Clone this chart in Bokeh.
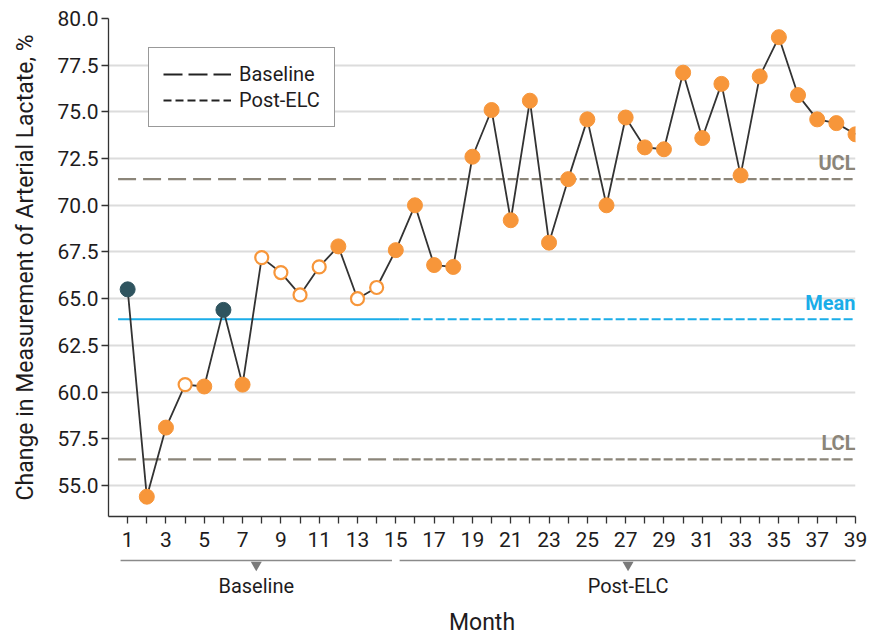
from bokeh.plotting import figure
from bokeh.models import Range1d, FixedTicker, Legend, LegendItem, NumeralTickFormatter
from bokeh.layouts import column
from bokeh.embed import file_html
from bokeh.resources import INLINE
from bokeh.core.properties import value

# ---------------- data ----------------
months = list(range(1, 40))
lactate_pct = [65.5, 54.4, 58.1, 60.4, 60.3, 64.4, 60.4, 67.2, 66.4, 65.2,
               66.7, 67.8, 65.0, 65.6, 67.6, 70.0, 66.8, 66.7, 72.6, 75.1,
               69.2, 75.6, 68.0, 71.4, 74.6, 70.0, 74.7, 73.1, 73.0, 77.1,
               73.6, 76.5, 71.6, 76.9, 79.0, 75.9, 74.6, 74.4, 73.8]
point_kind = ["dark", "filled", "filled", "open", "filled", "dark", "filled",
              "open", "open", "open", "open", "filled", "open", "open"] + ["filled"] * 25

limit_names = ["UCL", "Mean", "LCL"]
limit_values = [71.4, 63.9, 56.4]

phase_names = ["Baseline", "Post-ELC"]
phase_line_start = [0.5, 15.2]
phase_line_end = [15.2, 39.0]
bracket_start = [0.63, 15.2]
bracket_end = [14.8, 39.05]

y_ticks = [55.0, 57.5, 60.0, 62.5, 65.0, 67.5, 70.0, 72.5, 75.0, 77.5, 80.0]

# ---------------- styles ----------------
FONT = "Roboto"
TXT = "#1E1C1D"
ORANGE = "#F7963A"
DARK = "#2F545F"
GRAYLIM = "#8B8579"
BLUE = "#1BADE8"
limit_colors = {"UCL": GRAYLIM, "Mean": BLUE, "LCL": GRAYLIM}
dash_by_phase = {
    "Baseline": {"UCL": "18 7", "Mean": "solid", "LCL": "18 7"},
    "Post-ELC": {"UCL": "9 3", "Mean": "9 3", "LCL": "9 3"},
}

p = figure(frame_width=747, frame_height=498,
           x_range=Range1d(0, 39), y_range=Range1d(53.34, 80.0),
           output_backend="svg", toolbar_location=None,
           min_border_left=108, min_border_right=16,
           min_border_top=18, min_border_bottom=40)
p.outline_line_color = None
p.background_fill_color = "white"
p.border_fill_color = "white"
p.xgrid.visible = False
p.ygrid.grid_line_color = "#DCDCDC"
p.ygrid.grid_line_width = 2
p.ygrid.ticker = FixedTicker(ticks=y_ticks)

p.yaxis.ticker = FixedTicker(ticks=y_ticks)
p.yaxis.formatter = NumeralTickFormatter(format="0.0")
p.xaxis.ticker = FixedTicker(ticks=months)
p.xaxis.major_label_overrides = {m: ("" if m % 2 == 0 else str(m)) for m in months}

for ax in (p.xaxis, p.yaxis):
    ax.axis_line_color = "#333333"
    ax.axis_line_width = 1.3
    ax.major_tick_line_color = "#333333"
    ax.major_tick_line_width = 1.3
    ax.major_tick_out = 7
    ax.major_tick_in = 0
    ax.minor_tick_line_color = None
    ax.major_label_text_font = FONT
    ax.major_label_text_font_size = "21px"
    ax.major_label_text_color = TXT
p.xaxis.major_label_standoff = 8
p.yaxis.major_label_standoff = 3
p.yaxis.axis_label = "Change in Measurement of Arterial Lactate, %"
p.yaxis.axis_label_text_font = FONT
p.yaxis.axis_label_text_font_size = "23px"
p.yaxis.axis_label_text_font_style = "normal"
p.yaxis.axis_label_text_color = TXT
p.yaxis.axis_label_standoff = 16

# control limits
for ph, xs, xe in zip(phase_names, phase_line_start, phase_line_end):
    for nm, val in zip(limit_names, limit_values):
        p.line([xs, xe], [val, val], line_color=limit_colors[nm], line_width=2.2,
               line_dash=dash_by_phase[ph][nm])

p.text(x=[39, 39, 39], y=limit_values, text=limit_names,
       text_color=[limit_colors[n] for n in limit_names],
       text_align="right", text_baseline="bottom", y_offset=-4,
       text_font=value(FONT), text_font_size="20px", text_font_style="bold")

# series
p.line(months, lactate_pct, line_color="#333333", line_width=1.8)
fx = [m for m, k in zip(months, point_kind) if k == "filled"]
fy = [v for v, k in zip(lactate_pct, point_kind) if k == "filled"]
ox = [m for m, k in zip(months, point_kind) if k == "open"]
oy = [v for v, k in zip(lactate_pct, point_kind) if k == "open"]
dx = [m for m, k in zip(months, point_kind) if k == "dark"]
dy = [v for v, k in zip(lactate_pct, point_kind) if k == "dark"]
p.scatter(fx, fy, size=15, fill_color=ORANGE, line_color=ORANGE)
p.scatter(ox, oy, size=13, fill_color="white", line_color=ORANGE, line_width=2.2)
p.scatter(dx, dy, size=15, fill_color=DARK, line_color=DARK)

# legend (proxy lines placed outside the visible range)
r_base = p.line([-10, -9], [0, 0], line_color="#222222", line_width=2, line_dash="19 6")
r_post = p.line([-10, -9], [0, 0], line_color="#222222", line_width=2, line_dash="8 4")
legend = Legend(items=[LegendItem(label="Baseline", renderers=[r_base]),
                       LegendItem(label="Post-ELC", renderers=[r_post])],
                location=(40, 389))
legend.label_text_font = FONT
legend.label_text_font_size = "20px"
legend.label_text_color = TXT
legend.glyph_width = 68
legend.glyph_height = 24
legend.label_height = 24
legend.padding = 14
legend.spacing = 2
legend.label_standoff = 8
legend.border_line_color = "#333333"
legend.border_line_width = 1.2
legend.background_fill_alpha = 1
p.add_layout(legend, "center")

# ---------------- lower panel (phase brackets + x label) ----------------
p2 = figure(frame_width=747, height=81,
            x_range=p.x_range, y_range=Range1d(81, 0),
            output_backend="svg", toolbar_location=None,
            x_axis_location=None, y_axis_location=None,
            min_border_left=108, min_border_right=16,
            min_border_top=0, min_border_bottom=0)
p2.outline_line_color = None
p2.grid.visible = False
p2.border_fill_color = "white"
p2.background_fill_color = "white"
p2.segment(x0=bracket_start, y0=[4, 4], x1=bracket_end, y1=[4, 4],
           line_color="#8A8A8A", line_width=1.6)
mids = [(a + b) / 2 for a, b in zip(bracket_start, bracket_end)]
p2.scatter(mids, [8.5, 8.5], marker="inverted_triangle", size=11,
           fill_color="#7A7A7A", line_color=None)
p2.text(x=mids, y=[29, 29], text=phase_names, text_align="center",
        text_baseline="middle", text_color=TXT,
        text_font=value(FONT), text_font_size="20px")
p2.text(x=[19.5], y=[66], text=["Month"], text_align="center",
        text_baseline="middle", text_color=TXT,
        text_font=value(FONT), text_font_size="23px")

layout = column(p, p2, spacing=0)
open("out.html", "w").write(file_html(layout, INLINE))
